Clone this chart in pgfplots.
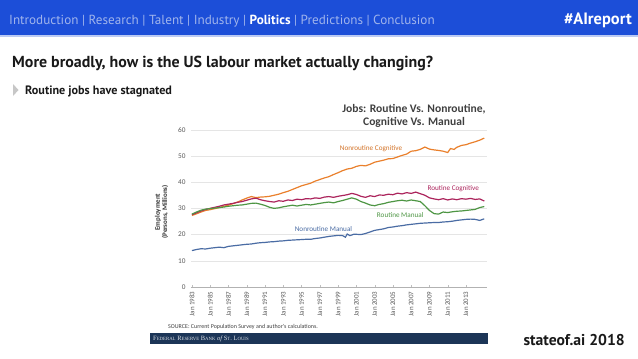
\documentclass[border=0pt]{standalone}
\usepackage{fontspec}
\setmainfont{PT Sans}
\newfontfamily\carlito{Carlito}
\newfontfamily\libserif{Liberation Serif}
\usepackage{pgfplots}
\pgfplotsset{compat=1.18}
\definecolor{bannerblue}{RGB}{28,78,216}
\definecolor{bannertext}{RGB}{160,180,236}
\definecolor{ncog}{RGB}{234,128,44}
\definecolor{rcog}{RGB}{172,36,92}
\definecolor{rman}{RGB}{78,150,68}
\definecolor{nman}{RGB}{74,108,164}
\definecolor{navy}{RGB}{28,53,87}
\definecolor{tickgray}{RGB}{90,90,90}
\newcommand\fsc[2]{#1{\fontsize{4.8}{5}\selectfont #2}}
\begin{document}
\begin{tikzpicture}
\useasboundingbox (0,0) rectangle (638bp,-359bp);
\fill[white] (0,0) rectangle (638bp,-359bp);
\begin{scope}[x=1bp,y=-1bp]
\fill[bannerblue] (0,0) rectangle (638,35);
\fill[bannerblue!30] (0,35) rectangle (638,36.5);
\node[anchor=base west,inner sep=0,font=\fontsize{13.2}{16}\selectfont,text=bannertext] at (9,24)
 {Introduction | Research | Talent | Industry | \textcolor{white}{\bfseries Politics} | Predictions | Conclusion};
\node[anchor=base east,inner sep=0,font=\bfseries\fontsize{16.5}{18}\selectfont,text=white] at (632,24.5) {\#AIreport};
\node[anchor=base west,inner sep=0,font=\bfseries\fontsize{16}{18}\selectfont,text=black!90] at (12,67) {More broadly, how is the US labour market actually changing?};
\fill[black!22] (13,84) -- (18.5,90) -- (13,96) -- cycle;
\node[anchor=base west,inner sep=0,font=\bfseries\fontsize{12.2}{14}\selectfont,text=black!90] at (25,94.5) {Routine jobs have stagnated};
\node[anchor=base east,inner sep=0,font=\bfseries\fontsize{15.7}{17}\selectfont,text=black!90] at (625,345.5) {stateof.ai 2018};
% chart title
\node[align=center,inner sep=0,font=\carlito\bfseries\fontsize{11.6}{13}\selectfont,text=black!75] at (414,116) {Jobs: Routine Vs. Nonroutine,\\Cognitive Vs. Manual};
\node[rotate=90,align=center,inner sep=0,font=\carlito\bfseries\fontsize{7}{7.2}\selectfont,text=black!80] at (161.5,212) {Employment\\(Persons, Millions)};
\node[anchor=base west,inner sep=0,font=\carlito\fontsize{6}{6.5}\selectfont,text=black!75] at (168,328.5) {SOURCE: Current Population Survey and author's calculations.};
\fill[navy] (150,332.5) rectangle (487.5,343.5);
\node[anchor=base west,inner sep=0,font=\libserif\fontsize{6.5}{7}\selectfont,text=white!85!navy] at (153,340.3) {\fsc{F}{EDERAL} \fsc{R}{ESERVE} \fsc{B}{ANK} {\itshape of} \fsc{S}{T}. \fsc{L}{OUIS}};
\end{scope}
\begin{axis}[at={(191bp,-287bp)},anchor=south west,scale only axis,
  width=296bp,height=157.3bp,
  xmin=1982.9,xmax=2015.3,ymin=0,ymax=60,
  axis x line*=bottom, axis y line*=left,
  y axis line style={draw=none},
  x axis line style={draw=black!30},
  ytick={0,10,...,60}, ymajorgrids, grid style={draw=black!10},
  xtick={1983,1985,...,2013},
  xticklabels={Jan 1983,Jan 1985,Jan 1987,Jan 1989,Jan 1991,Jan 1993,Jan 1995,Jan 1997,Jan 1999,Jan 2001,Jan 2003,Jan 2005,Jan 2007,Jan 2009,Jan 2011,Jan 2013},
  x tick label style={rotate=90,anchor=east,font=\carlito\fontsize{7}{7}\selectfont,text=tickgray},
  y tick label style={font=\carlito\fontsize{7.3}{8}\selectfont,text=tickgray},
  /pgf/number format/assume math mode=true,
  major tick length=2bp, tick style={draw=black!25},
  ytick style={draw=none},
  xticklabel shift=1bp, yticklabel shift=2bp,
  clip=false]
\addplot[ncog,line width=1.2pt] coordinates {
(1983.0,27.3)(1983.5,27.9)(1984.0,28.6)(1984.5,29.2)(1985.0,29.5)(1985.5,29.9)(1986.0,30.3)(1986.5,30.8)(1987.0,31.2)(1987.5,31.8)
(1988.0,32.4)(1988.5,33.2)(1989.0,33.9)(1989.5,34.5)(1990.0,34.1)(1990.5,34.3)(1991.0,34.4)(1991.5,34.6)(1992.0,35.0)(1992.5,35.4)
(1993.0,36.0)(1993.5,36.5)(1994.0,37.2)(1994.5,37.9)(1995.0,38.6)(1995.5,39.1)(1996.0,39.6)(1996.5,40.4)(1997.0,41.0)(1997.5,41.6)
(1998.0,42.1)(1998.5,42.9)(1999.0,43.6)(1999.5,44.4)(2000.0,45.0)(2000.5,45.3)(2001.0,46.0)(2001.5,46.4)(2002.0,46.2)(2002.5,46.8)
(2003.0,47.6)(2003.5,48.0)(2004.0,48.4)(2004.5,48.9)(2005.0,49.0)(2005.5,49.6)(2006.0,50.2)(2006.5,50.7)(2007.0,51.8)(2007.5,52.0)
(2008.0,52.5)(2008.5,53.4)(2009.0,52.6)(2009.5,52.3)(2010.0,52.1)(2010.5,51.8)(2011.0,51.3)(2011.3,52.8)(2011.7,52.5)(2012.0,53.3)
(2012.5,54.0)(2013.0,54.3)(2013.5,54.9)(2014.0,55.4)(2014.5,56.0)(2015.0,56.8)};
\addplot[rcog,line width=1.2pt] coordinates {
(1983.0,27.6)(1983.5,28.3)(1984.0,29.0)(1984.5,29.6)(1985.0,30.0)(1985.5,30.4)(1986.0,30.8)(1986.5,31.3)(1987.0,31.6)(1987.5,31.9)
(1988.0,32.3)(1988.5,32.6)(1989.0,33.1)(1989.5,33.6)(1990.0,33.9)(1990.5,33.3)(1991.0,32.9)(1991.5,32.6)(1992.0,32.4)(1992.5,32.9)
(1993.0,32.7)(1993.5,33.2)(1994.0,33.0)(1994.5,33.5)(1995.0,33.3)(1995.5,33.7)(1996.0,33.6)(1996.5,34.0)(1997.0,33.8)(1997.5,34.3)
(1998.0,34.5)(1998.5,34.2)(1999.0,34.6)(1999.5,34.9)(2000.0,35.2)(2000.5,35.7)(2001.0,35.3)(2001.5,34.6)(2002.0,34.2)(2002.5,34.8)
(2003.0,34.5)(2003.5,35.1)(2004.0,35.0)(2004.5,35.4)(2005.0,35.2)(2005.5,35.8)(2006.0,35.5)(2006.5,36.0)(2007.0,35.7)(2007.5,36.2)
(2008.0,35.6)(2008.5,35.0)(2009.0,34.0)(2009.5,33.6)(2010.0,33.3)(2010.5,33.7)(2011.0,33.2)(2011.5,33.6)(2012.0,33.3)(2012.5,33.7)
(2013.0,33.5)(2013.5,33.8)(2014.0,33.4)(2014.5,33.6)(2015.0,32.8)};
\addplot[rman,line width=1.2pt] coordinates {
(1983.0,27.8)(1983.5,28.6)(1984.0,29.3)(1984.5,29.7)(1985.0,29.9)(1985.5,30.1)(1986.0,30.3)(1986.5,30.5)(1987.0,30.8)(1987.5,31.0)
(1988.0,31.2)(1988.5,31.3)(1989.0,31.6)(1989.5,31.9)(1990.0,32.0)(1990.5,31.6)(1991.0,31.1)(1991.5,30.4)(1992.0,30.0)(1992.5,30.2)
(1993.0,30.6)(1993.5,30.9)(1994.0,31.2)(1994.5,30.9)(1995.0,31.2)(1995.5,31.5)(1996.0,31.3)(1996.5,31.6)(1997.0,31.9)(1997.5,32.2)
(1998.0,32.4)(1998.5,32.1)(1999.0,32.6)(1999.5,33.0)(2000.0,33.5)(2000.5,34.0)(2001.0,33.5)(2001.5,32.6)(2002.0,32.0)(2002.5,31.3)
(2003.0,31.0)(2003.5,31.5)(2004.0,31.8)(2004.5,32.3)(2005.0,32.6)(2005.5,32.9)(2006.0,33.1)(2006.5,32.8)(2007.0,33.2)(2007.5,32.9)
(2008.0,32.6)(2008.5,31.0)(2009.0,29.2)(2009.5,28.0)(2010.0,27.8)(2010.5,28.6)(2011.0,28.4)(2011.5,28.7)(2012.0,28.9)(2012.5,29.0)
(2013.0,29.2)(2013.5,29.4)(2014.0,29.6)(2014.5,30.3)(2015.0,30.7)};
\addplot[nman,line width=1.2pt] coordinates {
(1983.0,13.9)(1983.5,14.3)(1984.0,14.6)(1984.5,14.5)(1985.0,14.8)(1985.5,15.0)(1986.0,15.2)(1986.5,15.0)(1987.0,15.5)(1987.5,15.7)
(1988.0,15.9)(1988.5,16.1)(1989.0,16.3)(1989.5,16.4)(1990.0,16.7)(1990.5,16.9)(1991.0,17.0)(1991.5,17.2)(1992.0,17.3)(1992.5,17.5)
(1993.0,17.6)(1993.5,17.8)(1994.0,17.9)(1994.5,18.0)(1995.0,18.1)(1995.5,18.2)(1996.0,18.2)(1996.5,18.5)(1997.0,18.7)(1997.5,19.0)
(1998.0,19.3)(1998.5,19.5)(1999.0,19.7)(1999.5,19.6)(1999.8,19.0)(2000.0,20.2)(2000.3,19.6)(2000.7,20.1)(2001.0,20.1)(2001.5,20.0)
(2002.0,20.4)(2002.5,21.0)(2003.0,21.6)(2003.5,21.9)(2004.0,22.2)(2004.5,22.7)(2005.0,22.9)(2005.5,23.2)(2006.0,23.4)(2006.5,23.7)
(2007.0,23.9)(2007.5,24.1)(2008.0,24.3)(2008.5,24.4)(2009.0,24.5)(2009.5,24.6)(2010.0,24.6)(2010.5,24.8)(2011.0,24.9)(2011.5,25.1)
(2012.0,25.4)(2012.5,25.6)(2013.0,25.8)(2013.5,25.9)(2014.0,25.8)(2014.5,25.4)(2015.0,26.0)};
\node[font=\carlito\fontsize{7.2}{8}\selectfont,text=ncog!90!black] at (axis cs:2002.6,52.6) {Nonroutine Cognitive};
\node[font=\carlito\fontsize{7.2}{8}\selectfont,text=rcog] at (axis cs:2011.6,37.6) {Routine Cognitive};
\node[font=\carlito\fontsize{7.2}{8}\selectfont,text=rman] at (axis cs:2005.8,27.4) {Routine Manual};
\node[font=\carlito\fontsize{7.2}{8}\selectfont,text=nman] at (axis cs:1997.4,22.0) {Nonroutine Manual};
\end{axis}
\end{tikzpicture}
\end{document}
